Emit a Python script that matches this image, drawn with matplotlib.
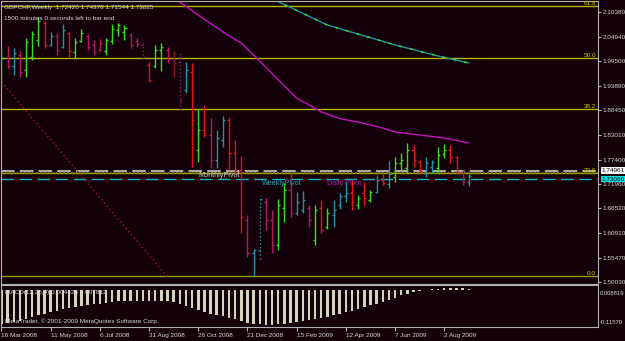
import matplotlib
matplotlib.use("Agg")
import matplotlib.pyplot as plt
from matplotlib.transforms import blended_transform_factory
from matplotlib import font_manager
import numpy as np

# GBPCHF weekly bars, week of 16 Mar 2008 .. 30 Aug 2009
opens = [1.9525, 2.0040, 1.9839, 2.0085, 1.9749, 2.0040, 2.0421, 2.0801, 2.0309, 2.0510,
         2.0264, 2.0577, 2.0152, 2.0398, 2.0510, 2.0309, 2.0197, 2.0174, 2.0398, 2.0644,
         2.0600, 2.0533, 2.0398, 2.0309, 1.9861, 1.9839, 2.0197, 2.0197, 1.9996, 1.9928,
         1.9301, 1.9704, 1.7958, 1.8406, 1.8294, 1.7734, 1.8182, 1.8630, 1.7891, 1.7510,
         1.6391, 1.5652, 1.5720, 1.6794, 1.6391, 1.5832, 1.6660, 1.7063, 1.6548, 1.6616,
         1.6660, 1.5943, 1.6660, 1.6234, 1.6503, 1.6727, 1.6928, 1.6995, 1.6727, 1.6995,
         1.6839, 1.7018, 1.7286, 1.7197, 1.7354, 1.7667, 1.7555, 1.7958, 1.7690, 1.7466,
         1.7578, 1.7555, 1.7869, 1.7958, 1.7801, 1.7466, 1.72420]
highs = [2.0241, 2.0286, 2.0241, 2.0174, 2.0465, 2.0622, 2.0935, 2.0846, 2.0600, 2.0577,
         2.0779, 2.0600, 2.0465, 2.0667, 2.0555, 2.0421, 2.0443, 2.0465, 2.0779, 2.0801,
         2.0756, 2.0577, 2.0465, 2.0353, 1.9928, 2.0309, 2.0353, 2.0264, 2.0174, 2.0130,
         1.9928, 1.9906, 1.8876, 1.8966, 1.8675, 1.8406, 1.8719, 1.8697, 1.8182, 1.7824,
         1.6503, 1.5742, 1.6928, 1.6884, 1.6615, 1.6861, 1.7219, 1.7443, 1.7018, 1.7040,
         1.6727, 1.6727, 1.6839, 1.6660, 1.6839, 1.6995, 1.7242, 1.7286, 1.6951, 1.7242,
         1.7063, 1.7398, 1.7443, 1.7712, 1.7801, 1.7891, 1.8115, 1.8070, 1.7734, 1.7801,
         1.7734, 1.8025, 1.8093, 1.8070, 1.7824, 1.7510, 1.74378]
lows = [1.9368, 1.9794, 1.9637, 1.9592, 1.9592, 1.9973, 2.0286, 2.0241, 2.0286, 2.0085,
        2.0241, 2.0040, 2.0018, 2.0376, 2.0197, 2.0085, 2.0174, 2.0085, 2.0331, 2.0510,
        2.0421, 2.0241, 2.0264, 1.9995, 1.9480, 1.9794, 1.9727, 1.9906, 1.9592, 1.8854,
        1.9234, 1.7578, 1.7690, 1.8249, 1.7555, 1.7555, 1.8025, 1.7510, 1.7398, 1.6100,
        1.5563, 1.5137, 1.5518, 1.6167, 1.5652, 1.5720, 1.6346, 1.6458, 1.6503, 1.6548,
        1.6234, 1.5832, 1.6100, 1.6190, 1.6234, 1.6637, 1.6794, 1.6615, 1.6637, 1.6727,
        1.6794, 1.6995, 1.7175, 1.7107, 1.7242, 1.7510, 1.7443, 1.7578, 1.7443, 1.7354,
        1.7443, 1.7466, 1.7779, 1.7667, 1.7421, 1.7175, 1.71544]
closes = [2.0018, 1.9839, 2.0130, 1.9704, 2.0376, 2.0555, 2.0846, 2.0309, 2.0510, 2.0197,
          2.0644, 2.0174, 2.0376, 2.0577, 2.0264, 2.0152, 2.0353, 2.0421, 2.0667, 2.0756,
          2.0689, 2.0309, 2.0331, 2.0040, 1.9525, 2.0197, 2.0264, 1.9996, 1.9906, 1.9077,
          1.9749, 1.8630, 1.8406, 1.8294, 1.7734, 1.8227, 1.8630, 1.7891, 1.7510, 1.6458,
          1.5652, 1.5720, 1.6861, 1.6391, 1.5832, 1.6727, 1.7063, 1.6548, 1.6794, 1.6839,
          1.6391, 1.6615, 1.6167, 1.6548, 1.6615, 1.6928, 1.6995, 1.6794, 1.6884, 1.6884,
          1.7018, 1.7286, 1.7219, 1.7421, 1.7667, 1.7734, 1.7958, 1.7734, 1.7488, 1.7667,
          1.7690, 1.7846, 1.7958, 1.7801, 1.7466, 1.7242, 1.73825]
# bar colour state from the trend indicator
bar_state = list("GMTMGGGRTM" "TRGGMMMGGG" "GMMPRGGMDP" "TRGRMTTRRR"
                 "MTQMMGGMTT" "MGRGTTTRGR" "GTRTGGGRRT" "TGGRRMT")

macd_hist = [-0.112, -0.110, -0.106, -0.101, -0.096, -0.090, -0.084, -0.078, -0.073, -0.068,
             -0.064, -0.060, -0.056, -0.052, -0.049, -0.047, -0.045, -0.042, -0.039, -0.037,
             -0.036, -0.035, -0.035, -0.035, -0.036, -0.035, -0.036, -0.038, -0.041, -0.046,
             -0.052, -0.060, -0.066, -0.072, -0.078, -0.083, -0.087, -0.092, -0.097, -0.103,
             -0.108, -0.112, -0.114, -0.115, -0.1157, -0.114, -0.112, -0.110, -0.107, -0.104,
             -0.100, -0.097, -0.093, -0.089, -0.084, -0.079, -0.074, -0.069, -0.063, -0.057,
             -0.051, -0.045, -0.039, -0.032, -0.025, -0.018, -0.012, -0.007, -0.003, 0.001,
             0.003, 0.004, 0.005, 0.006, 0.006, 0.005, 0.004]

# moving averages read at a few bars
ma_slow_bars = [26, 29, 32, 36, 39, 42, 45, 48, 52, 55, 58, 62, 64, 68, 72, 76]
ma_slow_vals = [2.175, 2.127, 2.098, 2.060, 2.035, 1.995, 1.953, 1.912, 1.881, 1.866,
                1.8585, 1.845, 1.836, 1.8294, 1.8227, 1.8115]
ma_long_bars = [44, 45, 53, 64, 71, 76]
ma_long_vals = [2.140, 2.128, 2.0756, 2.031, 2.0063, 1.9906]
trend_bars = [0, 27]
trend_vals = [1.948, 1.5115]

fib_low, fib_high = 1.5137, 2.4907
fib_ratios = [0.0, 0.236, 0.382, 0.5, 0.618]
monthly_pivot = 1.74961
weekly_pivot = 1.73066

price_ticks = [2.10380, 2.04940, 1.99500, 1.93890, 1.88450, 1.83010,
               1.77400, 1.71960, 1.66520, 1.60910, 1.55470, 1.50030]
date_bars = [0, 8, 16, 24, 32, 40, 48, 56, 64, 72]
date_labels = ["16 Mar 2008", "11 May 2008", "6 Jul 2008", "31 Aug 2008", "26 Oct 2008",
               "21 Dec 2008", "15 Feb 2009", "12 Apr 2009", "7 Jun 2009", "2 Aug 2009"]

bg = "#140008"
txt = "#d8d8d8"
state_color = {"G": "#34e01c", "R": "#e0141e", "T": "#1e94a6", "M": "#b01a62",
               "D": "#8e1a24", "P": "#8a1e7a", "Q": "#1e94a6"}

# narrow font if there is one, else Liberation Sans
names = {f.name for f in font_manager.fontManager.ttflist}
fam = ["Liberation Sans Narrow"] if "Liberation Sans Narrow" in names else []
plt.rcParams["font.family"] = fam + ["Liberation Sans", "DejaVu Sans"]
fs = 5.2 if fam else 4.6

W, H = 625, 341
def box(x0, y0, x1, y1):
    return [x0 / W, 1 - y1 / H, (x1 - x0) / W, (y1 - y0) / H]

fig = plt.figure(figsize=(W / 100, H / 100), dpi=100, facecolor=bg)
ax = fig.add_axes(box(1, 1, 598, 284), facecolor=bg)
mx = fig.add_axes(box(1, 285, 598, 327), facecolor=bg)

n = len(opens)
xs = np.arange(n)
for a in (ax, mx):
    a.set_xlim(-0.08, 97.0)
    for s in a.spines.values():
        s.set_color("#b0b0b0")
        s.set_linewidth(0.8)
ax.set_ylim(1.4958, 2.1294)
mx.set_ylim(-0.1223, 0.0165)

# fibonacci levels
tr = blended_transform_factory(ax.transAxes, ax.transData)
for r in fib_ratios:
    lvl = fib_low + r * (fib_high - fib_low)
    col = "#8ca000" if r == 0.0 else "#b4b400"
    ax.axhline(lvl, color=col, lw=1.0, zorder=1)
    ax.text(0.997, lvl, "%.1f" % (r * 100), color="#c8c800", fontsize=fs,
            ha="right", va="bottom", transform=tr)
ax.axhline(fib_low + 0.236 * (fib_high - fib_low), color="#7a7a00", lw=1.4,
           ls=(0, (1, 1)), zorder=1)

# pivots
ax.axhline(monthly_pivot, color="#a8a8a8", lw=1.5, dashes=(6.5, 2.5), zorder=1)
ax.axhline(weekly_pivot, color="#20b4cc", lw=1.0, dashes=(9, 4), zorder=1)
ax.text(32, 1.7376, "MonthlyPivot", color="#c8c8c8", fontsize=fs + 0.6, va="center")
ax.text(42.4, 1.7197, "WeeklyPivot", color="#20a8b8", fontsize=fs + 0.6, va="center")
ax.text(52.9, 1.7197, "Daily Pivot", color="#b020b0", fontsize=fs + 0.6, va="center")

# moving averages
ax.plot(ma_slow_bars, ma_slow_vals, color="#c010c0", lw=1.0, zorder=2)
ax.plot(ma_long_bars, ma_long_vals, color="#1e96a8", lw=1.0, zorder=2)
ax.plot(ma_long_bars, ma_long_vals, color="#40e020", lw=1.0, dashes=(2, 6), zorder=2)
ax.plot(trend_bars, trend_vals, color="#a01030", lw=1.0, ls=(0, (1, 2)), zorder=2)

# OHLC bars
tick = 0.33
for i in range(n):
    c = state_color[bar_state[i]]
    ls = ":" if bar_state[i] in "PQ" else "-"
    ax.vlines(xs[i], lows[i], highs[i], color=c, lw=1.0, linestyles=ls, zorder=3)
    ax.hlines(opens[i], xs[i] - tick, xs[i], color=c, lw=1.0, zorder=3)
    ax.hlines(closes[i], xs[i], xs[i] + tick, color=c, lw=1.0, zorder=3)

ax.set_xticks([])
ax.yaxis.tick_right()
ax.set_yticks(price_ticks)
ax.set_yticklabels(["%.5f" % p for p in price_ticks])
ax.tick_params(axis="y", colors="#b0b0b0", labelcolor=txt, labelsize=fs, length=2, pad=1.5)
for val, fc in ((monthly_pivot, "white"), (weekly_pivot, "#00e4e4")):
    ax.text(1.006, val, "%.5f" % val, transform=tr, fontsize=fs, color="black", va="center",
            ha="left", clip_on=False, bbox=dict(fc=fc, ec="none", pad=0.5))

fig.text(4 / W, 1 - 8 / H, "GBPCHF,Weekly  1.72420 1.74378 1.71544 1.73825",
         color=txt, fontsize=fs, va="center")
fig.text(4 / W, 1 - 18 / H, "1500 minutes 0 seconds left to bar end",
         color=txt, fontsize=fs, va="center")

# MACD window
mx.bar(xs, macd_hist, width=0.4, color="#d4d4bc", zorder=2)
mx.set_yticks([])
mx.set_xticks(date_bars)
mx.set_xticklabels(date_labels, ha="left")
mx.tick_params(axis="x", colors="#b0b0b0", labelcolor=txt, labelsize=fs, length=3, pad=1)
mx.text(4 / 597, 0.83, "MACD(12,26,9) 0.004425 0.007812", transform=mx.transAxes,
        color=txt, fontsize=fs, va="center")
mx.text(4 / 597, 0.14, "MetaTrader, \u00a9 2001-2009 MetaQuotes Software Corp.",
        transform=mx.transAxes, color=txt, fontsize=fs, va="center")
mx.text(1.003, 0.80, "0.008819", transform=mx.transAxes, color=txt, fontsize=fs - 0.4,
        va="center", ha="left", clip_on=False)
mx.text(1.003, 0.10, "-0.11570", transform=mx.transAxes, color=txt, fontsize=fs - 0.4,
        va="center", ha="left", clip_on=False)

fig.savefig("out.png", dpi=100, facecolor=bg)
